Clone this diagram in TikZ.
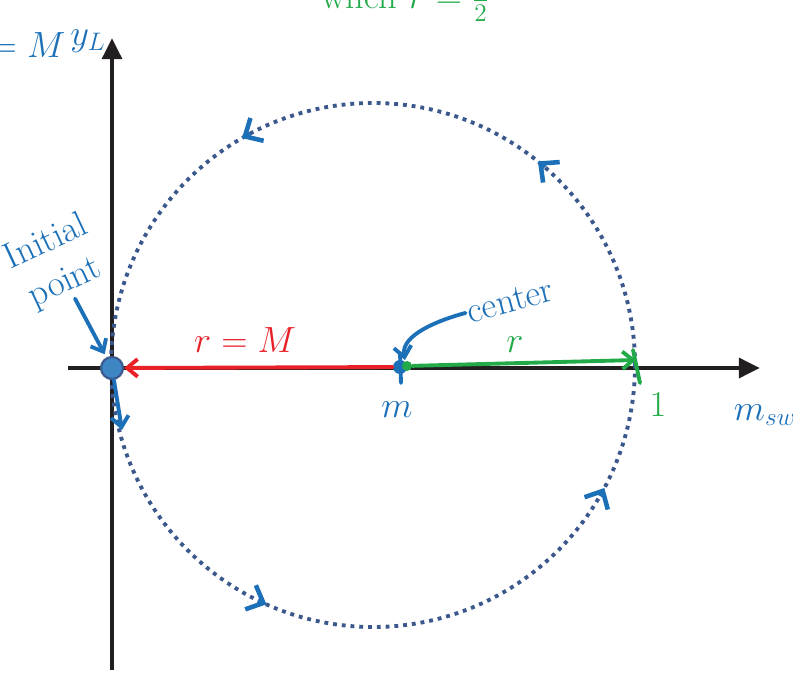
\documentclass[tikz,border=0pt]{standalone}
\usetikzlibrary{arrows.meta,calc}
\definecolor{inkblue}{RGB}{28,112,184}
\definecolor{inkgreen}{RGB}{34,170,72}
\definecolor{inkred}{RGB}{232,32,40}
\definecolor{dotblue}{RGB}{58,88,140}
\definecolor{axisblack}{RGB}{35,31,32}
\begin{document}
\begin{tikzpicture}[
    x=0.02cm, y=0.02cm,
    axis/.style={line width=2.8pt, draw=axisblack, -{Triangle[length=12pt,width=11pt]}},
    circ/.style={draw=dotblue, line width=2.2pt, dash pattern=on 2.2pt off 2.8pt},
    ink/.style={line width=2.2pt, line cap=round},
    lbl/.style={font=\huge, inner sep=1pt},
    chev/.style={line width=2.6pt, draw=inkblue, -{Straight Barb[length=8pt,width=15pt]}},
    >={Straight Barb[length=6pt,width=10pt]}
  ]
  \useasboundingbox (0,0) rectangle (793,673);
  % axes and the dotted circle
  \coordinate (ybot) at (112,3);
  \coordinate (ytop) at (112,635);
  \coordinate (xl) at (68,305);
  \coordinate (xr) at (760,305);
  \coordinate (ctr) at (373,308);
  \draw[axis] (ybot) -- (ytop);
  \draw[axis] (xl) -- (xr);
  \draw[circ] (ctr) circle[radius=262];
  \foreach \a in {120,51,-28,-114}
    \draw[chev] ($(ctr)+(\a-2:262)$) arc[start angle=\a-2, end angle=\a, radius=262];
  % points
  \node[circle, fill=inkblue!85, draw=dotblue, line width=1.2pt, minimum size=0.44cm, inner sep=0pt] (init) at (112,305) {};
  \coordinate (dn) at (122,243);
  \coordinate (mtop) at (400,320);
  \coordinate (mbot) at (401,290);
  \draw[ink, draw=inkblue] (mtop) -- (mbot);
  \node[circle, fill=inkblue, minimum size=0.28cm, inner sep=0pt] (m) at (400,306) {};
  \node[circle, fill=inkgreen, minimum size=0.2cm, inner sep=0pt] (g) at (407,307) {};
  \coordinate (rend) at (636,313);
  \coordinate (t1) at (633,323);
  \coordinate (t2) at (640,290);
  % connectors
  \draw[ink, draw=inkred, ->] (m) -- (init);
  \draw[ink, draw=inkgreen, ->] (g) -- (rend);
  \draw[ink, draw=inkgreen] (t1) -- (t2);
  \draw[ink, draw=inkblue, ->] (init) -- (dn);
  % labels
  \node[lbl, text=inkblue, rotate=25, align=center] (initlbl) at (56,410) {Initial\\point};
  \draw[ink, draw=inkblue, ->, shorten >=2pt] (initlbl) -- (init);
  \node[lbl, text=inkblue, rotate=15] (ctrlbl) at (510,372) {center};
  \draw[ink, draw=inkblue, ->, shorten >=1pt] (ctrlbl.west) to[out=195, in=100, looseness=0.9] (m.north east);
  \node[lbl, text=inkred] (rm) at (245,333) {$r = M$};
  \node[lbl, text=inkgreen] (rlbl) at (515,328) {$r$};
  \node[lbl, text=inkgreen] (one) at (658,268) {$1$};
  \node[lbl, text=inkblue] (mlbl) at (397,263) {$m$};
  \node[lbl, text=inkblue] (msw) at (765,258) {$m_{sw}$};
  \node[lbl, text=inkblue] (eqm) at (28,628) {$= M$};
  \node[lbl, text=inkblue] (yl) at (88,632) {$y_L$};
  \node[lbl, text=inkgreen, anchor=base] (when) at (405,664) {when $r = \frac{1}{2}$};
\end{tikzpicture}
\end{document}
